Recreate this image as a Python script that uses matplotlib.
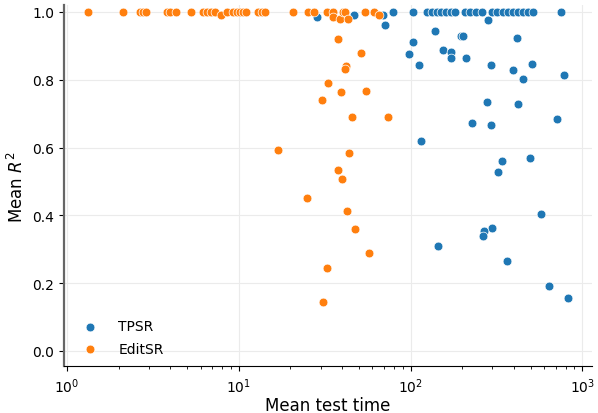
import numpy as np
from matplotlib import pyplot as plt

# TPSR: mean test time and mean R^2
tpsr_time = [28.5, 46.9, 69.3, 71.1, 79.2, 103.5, 125, 134, 143, 151, 161, 172, 182,
             208, 222, 241, 261, 283, 299, 319, 346, 370, 396, 423, 453, 484, 518, 754,
             139, 104, 197, 203, 418, 98, 155, 172, 172, 211, 112, 295, 396, 511, 453, 785,
             279, 423, 714, 228, 295, 115, 342, 497, 324, 576, 299, 268, 265, 145, 365,
             642, 827]
tpsr_r2 = [0.985, 0.991, 0.991, 0.962, 1.0, 1.0, 1.0, 1.0, 1.0, 1.0, 1.0, 1.0, 1.0,
           1.0, 1.0, 1.0, 1.0, 0.977, 1.0, 1.0, 1.0, 1.0, 1.0, 1.0, 1.0, 1.0, 1.0, 1.0,
           0.944, 0.912, 0.929, 0.929, 0.923, 0.876, 0.888, 0.882, 0.864, 0.864, 0.844,
           0.844, 0.829, 0.847, 0.802, 0.814,
           0.735, 0.729, 0.684, 0.673, 0.667, 0.619, 0.560, 0.569, 0.528, 0.404, 0.363,
           0.354, 0.339, 0.310, 0.265, 0.192, 0.156]

# EditSR
edit_time = [1.33, 2.12, 2.66, 2.77, 2.89, 3.82, 3.98, 4.31, 5.27, 6.20, 6.53, 6.90, 7.28,
             7.89, 8.55, 9.27, 9.77, 10.2, 10.6, 11.0, 12.9, 13.7, 14.2, 20.7, 25.3, 27.5,
             32.7, 35.4, 35.4, 38.9, 40.5, 41.6, 43.3, 54.4, 61.4, 65.6,
             37.9, 51.6, 42.2, 41.6, 33.1, 39.4, 55.1, 30.6, 45.7, 74.1, 16.9, 43.9,
             37.9, 40.0, 25.0, 42.7, 47.6, 57.4, 32.7, 31.0]
edit_r2 = [1.0, 1.0, 1.0, 1.0, 1.0, 1.0, 1.0, 1.0, 1.0, 1.0, 1.0, 1.0, 1.0,
           0.99, 1.0, 1.0, 1.0, 1.0, 1.0, 1.0, 1.0, 1.0, 1.0, 1.0, 1.0, 1.0,
           1.0, 1.0, 0.985, 0.98, 1.0, 1.0, 0.98, 1.0, 1.0, 0.99,
           0.920, 0.879, 0.841, 0.832, 0.791, 0.764, 0.767, 0.740, 0.690, 0.690, 0.593,
           0.584, 0.534, 0.507, 0.451, 0.413, 0.360, 0.289, 0.245, 0.145]

fig, ax = plt.subplots(figsize=(5.98, 4.14), dpi=100)
fig.subplots_adjust(left=0.107, right=0.99, top=0.985, bottom=0.113)

ax.scatter(tpsr_time, tpsr_r2, s=40, color='#1f77b4', edgecolor='white', linewidth=0.5, label='TPSR', zorder=3)
ax.scatter(edit_time, edit_r2, s=40, color='#ff7f0e', edgecolor='white', linewidth=0.5, label='EditSR', zorder=3)

ax.set_xscale('log')
ax.set_xlim(0.96, 1140)
ax.set_ylim(-0.045, 1.02)
ax.set_yticks([0.0, 0.2, 0.4, 0.6, 0.8, 1.0])
ax.grid(True, which='major', color='#ebebeb', linewidth=0.8, zorder=0)
ax.spines['top'].set_visible(False)
ax.spines['right'].set_visible(False)
ax.spines['left'].set_color('#666666')
ax.spines['left'].set_linewidth(1.6)
ax.tick_params(labelsize=10)

ax.set_xlabel('Mean test time', fontsize=12, labelpad=1)
ax.set_ylabel(r'Mean $R^2$', fontsize=12)
ax.legend(loc='lower left', frameon=False, fontsize=10, bbox_to_anchor=(0.0, -0.005),
          handletextpad=1.0, labelspacing=0.6)

plt.savefig('out.png', dpi=100)
